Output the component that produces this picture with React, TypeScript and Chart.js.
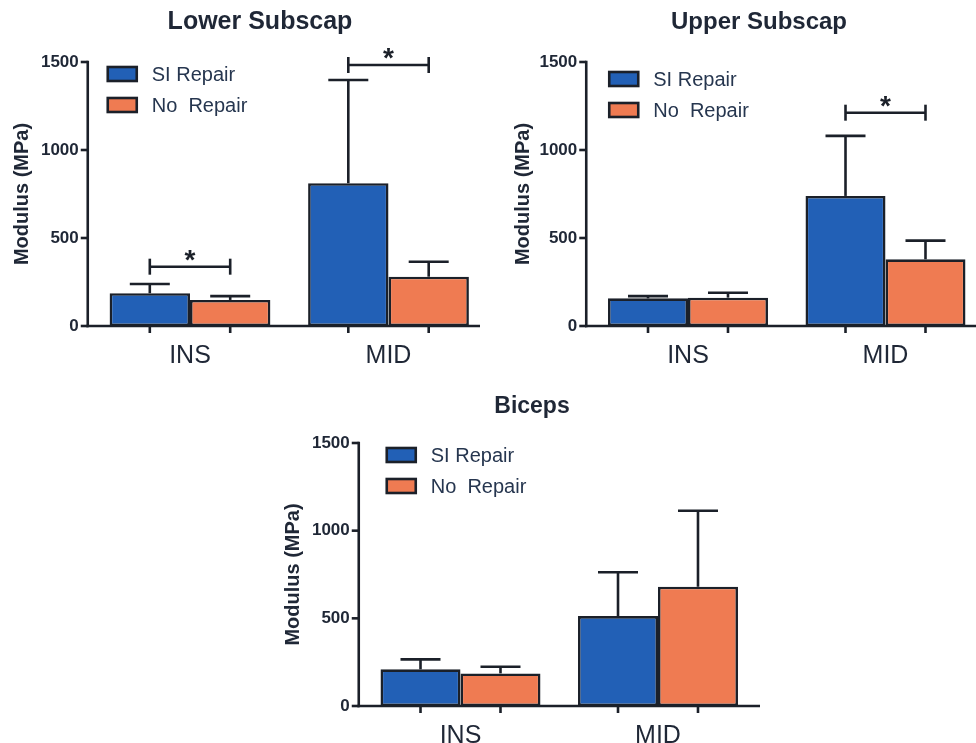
import React, { useEffect, useRef } from 'react';
import { Chart, registerables } from 'chart.js';

Chart.register(...registerables);

// ---------- data ----------
const categories = ['INS', 'MID'];
const seriesLabels = ['SI Repair', 'No  Repair'];
const yTickValues = [0, 500, 1000, 1500];
const yAxisTitle = 'Modulus (MPa)';

const lowerSIMean = [186, 811];
const lowerSISD = [53, 587];
const lowerNoMean = [148, 280];
const lowerNoSD = [22, 85];
const lowerSigCategory = [0, 1];
const lowerSigLevel = [337, 1483];

const upperSIMean = [157, 739];
const upperSISD = [13, 341];
const upperNoMean = [161, 379];
const upperNoSD = [28, 106];
const upperSigCategory = [1];
const upperSigLevel = [1212];

const bicepsSIMean = [209, 513];
const bicepsSISD = [57, 250];
const bicepsNoMean = [186, 680];
const bicepsNoSD = [38, 434];
const bicepsSigCategory: number[] = [];
const bicepsSigLevel: number[] = [];

// ---------- styles ----------
const FONT = '"Liberation Sans", Arial, sans-serif';
const BLUE = '#2260b6';
const ORANGE = '#ef7b52';
const INK = '#1b2029';
const TEXT = '#1f2736';
const LEGEND_TEXT = '#26364f';

const prismPlugin = {
  id: 'prism',
  afterDatasetsDraw(chart: any, _args: any, o: any) {
    const ctx = chart.ctx;
    const ca = chart.chartArea;
    const ys = chart.scales.y;
    const axX = ca.left - o.axisGap;
    const y0 = ys.getPixelForValue(0);
    const yTop = ys.getPixelForValue(ys.max);
    ctx.save();
    ctx.strokeStyle = INK;
    ctx.lineWidth = 2.6;
    ctx.lineCap = 'butt';
    const line = (x1: number, y1: number, x2: number, y2: number) => {
      ctx.beginPath();
      ctx.moveTo(x1, y1);
      ctx.lineTo(x2, y2);
      ctx.stroke();
    };
    // error bars + x ticks
    chart.data.datasets.forEach((ds: any, di: number) => {
      const meta = chart.getDatasetMeta(di);
      meta.data.forEach((bar: any, i: number) => {
        const yt = ys.getPixelForValue(ds.data[i] + ds.errors[i]);
        line(bar.x, bar.y, bar.x, yt);
        line(bar.x - o.capHalf, yt, bar.x + o.capHalf, yt);
        line(bar.x, y0, bar.x, y0 + 7);
      });
    });
    // axes
    line(axX, yTop - 1.3, axX, y0 + 1.3);
    line(axX - 1.3, y0, ca.right + o.axisEnd, y0);
    ys.ticks.forEach((t: any) => {
      const p = ys.getPixelForValue(t.value);
      line(axX - 7, p, axX, p);
    });
    // significance brackets
    const m0 = chart.getDatasetMeta(0);
    const m1 = chart.getDatasetMeta(1);
    o.sigCategory.forEach((c: number, k: number) => {
      const x1 = m0.data[c].x;
      const x2 = m1.data[c].x;
      const yy = ys.getPixelForValue(o.sigLevel[k]);
      line(x1, yy, x2, yy);
      line(x1, yy - 8, x1, yy + 8);
      line(x2, yy - 8, x2, yy + 8);
      ctx.fillStyle = INK;
      ctx.font = `bold 28px ${FONT}`;
      ctx.textAlign = 'center';
      ctx.textBaseline = 'alphabetic';
      ctx.fillText('*', (x1 + x2) / 2, yy + 2);
    });
    // legend
    chart.data.datasets.forEach((ds: any, i: number) => {
      const bx = ca.left + o.legendDx;
      const by = ca.top + o.legendDy + i * 31;
      ctx.fillStyle = ds.backgroundColor;
      ctx.fillRect(bx, by, 29, 14);
      ctx.lineWidth = 2.6;
      ctx.strokeRect(bx, by, 29, 14);
      ctx.fillStyle = LEGEND_TEXT;
      ctx.font = `20px ${FONT}`;
      ctx.textAlign = 'left';
      ctx.textBaseline = 'middle';
      ctx.fillText(ds.label, bx + 29 + 15, by + 8);
    });
    // title
    ctx.fillStyle = TEXT;
    ctx.font = `bold ${o.titleSize}px ${FONT}`;
    ctx.textAlign = 'center';
    ctx.textBaseline = 'alphabetic';
    ctx.fillText(o.title, o.titleX, o.titleBaseline);
    ctx.restore();
  },
};

type Layout = {
  x: number; y: number; width: number; height: number;
  padLeft: number; left: number; right: number; top: number; bottom: number;
  axisEnd: number; legendDx: number; legendDy: number;
  titleX: number; titleBaseline: number; titleSize: number;
};

function Panel(props: {
  title: string; si: number[]; siSD: number[]; no: number[]; noSD: number[];
  sigCategory: number[]; sigLevel: number[]; layout: Layout;
}) {
  const ref = useRef<HTMLCanvasElement | null>(null);
  const l = props.layout;
  useEffect(() => {
    const chart = new Chart(ref.current as HTMLCanvasElement, {
      type: 'bar',
      data: {
        labels: categories,
        datasets: [
          {
            label: seriesLabels[0], data: props.si, errors: props.siSD,
            backgroundColor: BLUE, borderColor: INK, borderWidth: 2.6, borderSkipped: false,
            categoryPercentage: 0.81, barPercentage: 1,
          } as any,
          {
            label: seriesLabels[1], data: props.no, errors: props.noSD,
            backgroundColor: ORANGE, borderColor: INK, borderWidth: 2.6, borderSkipped: false,
            categoryPercentage: 0.81, barPercentage: 1,
          } as any,
        ],
      },
      options: {
        responsive: false,
        animation: false,
        events: [],
        layout: { padding: { left: l.padLeft, top: l.top, right: l.width - l.right, bottom: 0 } },
        plugins: {
          legend: { display: false },
          title: { display: false },
          tooltip: { enabled: false },
          prism: {
            axisGap: 3, axisEnd: l.axisEnd, capHalf: 20,
            legendDx: l.legendDx, legendDy: l.legendDy,
            sigCategory: props.sigCategory, sigLevel: props.sigLevel,
            title: props.title, titleX: l.titleX, titleBaseline: l.titleBaseline, titleSize: l.titleSize,
          },
        } as any,
        scales: {
          x: {
            grid: { display: false, drawTicks: false },
            border: { display: false },
            ticks: { font: { family: FONT, size: 25 }, color: TEXT, padding: 15 },
            afterFit: (s: any) => { s.height = l.height - l.bottom; },
          },
          y: {
            min: 0,
            max: 1500,
            afterBuildTicks: (s: any) => { s.ticks = yTickValues.map((v) => ({ value: v })); },
            grid: { display: false, drawTicks: false },
            border: { display: false },
            ticks: {
              font: { family: FONT, size: 17, weight: 'bold' }, color: TEXT, padding: 12,
              callback: (v: any) => String(v),
            },
            title: {
              display: true, text: yAxisTitle, color: TEXT,
              font: { family: FONT, size: 20, weight: 'bold' }, padding: { top: 0, bottom: 0 },
            },
            afterFit: (s: any) => { s.width = l.left - l.padLeft; },
          },
        } as any,
      },
      plugins: [prismPlugin as any],
    });
    return () => chart.destroy();
  }, []);
  return (
    <canvas
      ref={ref}
      width={l.width}
      height={l.height}
      style={{ position: 'absolute', left: l.x, top: l.y, width: l.width, height: l.height }}
    />
  );
}

const layoutLower: Layout = {
  x: 0, y: 0, width: 490, height: 380, padLeft: 10, left: 90.75, right: 487.75, top: 62, bottom: 326,
  axisEnd: -7.75, legendDx: 17, legendDy: 5, titleX: 260, titleBaseline: 29, titleSize: 25,
};
const layoutUpper: Layout = {
  x: 490, y: 0, width: 500, height: 380, padLeft: 21, left: 99.25, right: 494.25, top: 62, bottom: 326,
  axisEnd: -8.25, legendDx: 20, legendDy: 10, titleX: 269, titleBaseline: 29, titleSize: 24,
};
const layoutBiceps: Layout = {
  x: 270, y: 380, width: 500, height: 363, padLeft: 11, left: 91.75, right: 486.75, top: 63, bottom: 326,
  axisEnd: 3.25, legendDx: 25, legendDy: 5, titleX: 262, titleBaseline: 33, titleSize: 23,
};

export default function App() {
  return (
    <div style={{ position: 'absolute', left: 0, top: 0, width: 976, height: 743, overflow: 'hidden', background: '#ffffff' }}>
      <Panel title="Lower Subscap" si={lowerSIMean} siSD={lowerSISD} no={lowerNoMean} noSD={lowerNoSD}
        sigCategory={lowerSigCategory} sigLevel={lowerSigLevel} layout={layoutLower} />
      <Panel title="Upper Subscap" si={upperSIMean} siSD={upperSISD} no={upperNoMean} noSD={upperNoSD}
        sigCategory={upperSigCategory} sigLevel={upperSigLevel} layout={layoutUpper} />
      <Panel title="Biceps" si={bicepsSIMean} siSD={bicepsSISD} no={bicepsNoMean} noSD={bicepsNoSD}
        sigCategory={bicepsSigCategory} sigLevel={bicepsSigLevel} layout={layoutBiceps} />
    </div>
  );
}
